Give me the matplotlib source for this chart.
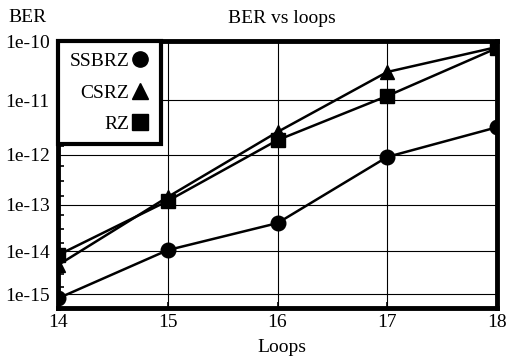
import numpy as np
import matplotlib.pyplot as plt
from matplotlib.lines import Line2D

# data
loops = [14, 15, 16, 17, 18]
ssbrz = [7.9e-16, 1.05e-14, 4.1e-14, 9.1e-13, 3.3e-12]
csrz = [4.8e-15, 1.45e-13, 2.7e-12, 3.1e-11, 8.0e-11]
rz = [8.1e-15, 1.2e-13, 1.9e-12, 1.2e-11, 7.7e-11]

yticks = [1e-10, 1e-11, 1e-12, 1e-13, 1e-14, 1e-15]
ytick_labels = ['1e-10', '1e-11', '1e-12', '1e-13', '1e-14', '1e-15']
minor_ticks = [m * 10.0 ** -e for e in range(11, 16) for m in (1.5, 3, 6)]


# BER axis: log(-log(BER)), small BER at the bottom
def fwd(y):
    y = np.clip(np.asarray(y, dtype=float), 1e-300, 0.999)
    return -np.log10(-np.log10(y))


def inv(t):
    return 10.0 ** (-(10.0 ** (-np.asarray(t, dtype=float))))


plt.rcParams['font.family'] = ['Liberation Serif', 'DejaVu Serif']
plt.rcParams['font.size'] = 14

fig = plt.figure(figsize=(5.11, 3.58), dpi=100)
ax = fig.add_axes([58 / 511, 1 - 308 / 358, 439 / 511, 267 / 358])

ax.set_yscale('function', functions=(fwd, inv))

lw = 1.8
ax.plot(loops, ssbrz, color='black', lw=lw, marker='o', ms=10.5, zorder=3)
ax.plot(loops, csrz, color='black', lw=lw, marker='^', ms=10.5, zorder=3)
ax.plot(loops, rz, color='black', lw=lw, marker='s', ms=10.5, zorder=3)

ax.set_xlim(14, 18)
ax.set_ylim(4.6e-16, 1e-10)
ax.set_xticks(loops)
ax.set_yticks(yticks)
ax.set_yticklabels(ytick_labels)
ax.set_yticks(minor_ticks, minor=True)
ax.set_yticklabels([''] * len(minor_ticks), minor=True)

ax.grid(True, which='major', color='black', lw=0.8)
ax.tick_params(axis='both', which='major', direction='in', length=4, width=1.2, pad=4)
ax.tick_params(axis='y', which='major', length=0, pad=6)
ax.tick_params(axis='y', which='minor', direction='in', length=4, width=1.2)
for s in ax.spines.values():
    s.set_linewidth(3.5)

ax.set_title('BER vs loops', x=0.51, pad=13, fontsize=14)
ax.set_xlabel('Loops', labelpad=6, x=0.51)
fig.text(8 / 511, 1 - 17 / 358, 'BER', ha='left', va='center', fontsize=14)

handles = [Line2D([], [], color='black', ls='none', marker=m, ms=11)
           for m in ('o', '^', 's')]
leg = ax.legend(handles, ['SSBRZ', 'CSRZ', 'RZ'], loc='upper left',
                markerfirst=False, fancybox=False, framealpha=1,
                edgecolor='black', borderaxespad=0, handlelength=0.9,
                handletextpad=0.1, labelspacing=0.7, borderpad=0.6)
leg.get_frame().set_linewidth(3)
leg.set_zorder(5)

fig.savefig('out.png', dpi=100)
